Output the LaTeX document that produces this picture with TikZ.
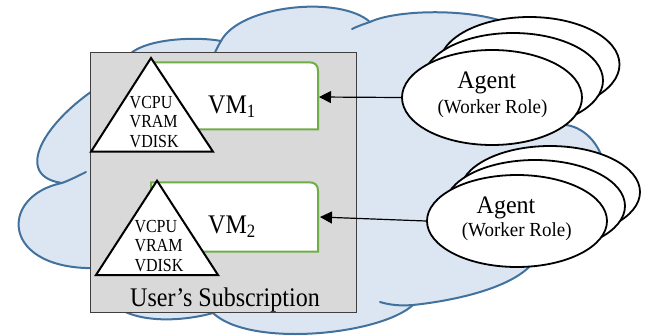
\documentclass[tikz,border=0pt]{standalone}
\usepackage{graphicx}
\usepackage{fontspec}
\setmainfont{Liberation Serif}
\usetikzlibrary{shapes.geometric,arrows.meta}
\definecolor{cloudfill}{HTML}{DCE6F2}
\definecolor{cloudline}{HTML}{41719C}
\definecolor{vmgreen}{HTML}{70AD47}
\definecolor{subfill}{HTML}{D9D9D9}
\definecolor{subline}{HTML}{3F3F3F}
\newcommand\vstretch[2]{\scalebox{1}[#1]{#2}}
\tikzset{
  cloudshape/.style={fill=cloudfill, draw=cloudline, line width=2pt, line join=round},
  cloudinner/.style={draw=cloudline, line width=2pt, line cap=round},
  subbox/.style={rectangle, draw=subline, fill=subfill, line width=1.2pt, inner sep=0pt,
    minimum width=266pt, minimum height=259.6pt},
  vmbox/.style={draw=vmgreen, fill=white, line width=2pt},
  resbox/.style={draw=black, fill=white, line width=2pt, line join=miter},
  agentell/.style={ellipse, draw=black, fill=white, line width=1.8pt, inner sep=0pt,
    minimum width=180pt},
  conn/.style={draw=black, line width=1.2pt, -{Triangle[length=12pt,width=12pt]}},
  restext/.style={anchor=base west, inner sep=0pt, font=\fontsize{16}{19}\selectfont},
  vmtext/.style={anchor=base west, inner sep=0pt, font=\fontsize{24}{28}\selectfont},
  subtext/.style={anchor=base, inner sep=0pt, font=\fontsize{24}{28}\selectfont},
  agenttext/.style={anchor=base, inner sep=0pt, font=\fontsize{24}{28}\selectfont},
  roletext/.style={anchor=base, inner sep=0pt, font=\fontsize{19}{23}\selectfont},
}
\begin{document}
\begin{tikzpicture}[x=1pt,y=-1pt]
\useasboundingbox (0,0) rectangle (645,335);

% cloud
\path[cloudshape] (62,183)
  .. controls (5,175) and (55,105) .. (125,72)
  .. controls (115,40) and (190,35) .. (221,41)
  .. controls (240,5) and (340,-5) .. (370,22)
  .. controls (395,10) and (465,8) .. (505,22)
  .. controls (560,35) and (580,110) .. (555,125)
  .. controls (575,122) and (595,135) .. (603,160)
  .. controls (630,195) and (560,255) .. (530,266)
  .. controls (510,287) and (460,300) .. (413,305)
  .. controls (380,335) and (250,348) .. (213,313)
  .. controls (170,325) and (95,325) .. (100,268)
  .. controls (0,272) and (-2,196) .. (62,183) -- cycle;
\draw[cloudinner] (62,183) .. controls (70,180) and (78,176) .. (86,172);
\draw[cloudinner] (221,41) .. controls (218,46) and (216,50) .. (214,55);
\draw[cloudinner] (370,22) .. controls (364,24) and (358,26) .. (352,29);
\draw[cloudinner] (413,305) .. controls (400,306) and (390,305) .. (380,302);

% subscription box
\node[subbox] (sub) at (223.5,182.5) {};
\node[subtext] (subl) at (225,306.5) {\vstretch{1.12}{User’s Subscription}};

% VM boxes
\draw[vmbox] (151,129.3) -- (151,62.3) -- (309,62.3)
  .. controls (315,62.3) and (318,65) .. (318,71) -- (318,129.3) -- cycle;
\draw[vmbox] (151,251.7) -- (151,182.3) -- (309,182.3)
  .. controls (315,182.3) and (318,185) .. (318,191) -- (318,251.7) -- cycle;
\coordinate (vm1in) at (319,97);
\coordinate (vm2in) at (320,217);
\node[vmtext] (vm1) at (208,113.3) {\vstretch{1.12}{VM\textsubscript{1}}};
\node[vmtext] (vm2) at (208,233.3) {\vstretch{1.12}{VM\textsubscript{2}}};

% resource triangles
\draw[resbox] (151,58) -- (213,151.7) -- (91,151.7) -- cycle;
\node[restext] (r1a) at (129.5,108.3) {\vstretch{1.15}{VCPU}};
\node[restext] (r1b) at (129.5,127.8) {\vstretch{1.15}{VRAM}};
\node[restext] (r1c) at (129.5,147.5) {\vstretch{1.15}{VDISK}};
\draw[resbox] (157,180.7) -- (218,275) -- (96,275) -- cycle;
\node[restext] (r2a) at (134.3,232.3) {\vstretch{1.15}{VCPU}};
\node[restext] (r2b) at (134.3,251.8) {\vstretch{1.15}{VRAM}};
\node[restext] (r2c) at (134.3,271.5) {\vstretch{1.15}{VDISK}};

% agents group 1
\node[agentell, minimum height=95pt] (ag1c) at (529.5,64.5) {};
\node[agentell, minimum height=95pt] (ag1b) at (513,80.5) {};
\node[agentell, minimum height=95pt] (ag1) at (492,97.5) {};
\node[agenttext] (ag1t) at (486.7,88) {\vstretch{1.05}{Agent}};
\node[roletext] (ag1r) at (492.5,113) {\vstretch{1.05}{(Worker Role)}};

% agents group 2
\node[agentell, minimum height=92pt] (ag2c) at (550,192) {};
\node[agentell, minimum height=92pt] (ag2b) at (535,206) {};
\node[agentell, minimum height=92pt] (ag2) at (517,221) {};
\node[agenttext] (ag2t) at (506,213) {\vstretch{1.05}{Agent}};
\node[roletext] (ag2r) at (516.7,236) {\vstretch{1.05}{(Worker Role)}};

% connectors
\draw[conn] (ag1.west) -- (vm1in);
\draw[conn] (ag2.west) -- (vm2in);
\end{tikzpicture}
\end{document}
